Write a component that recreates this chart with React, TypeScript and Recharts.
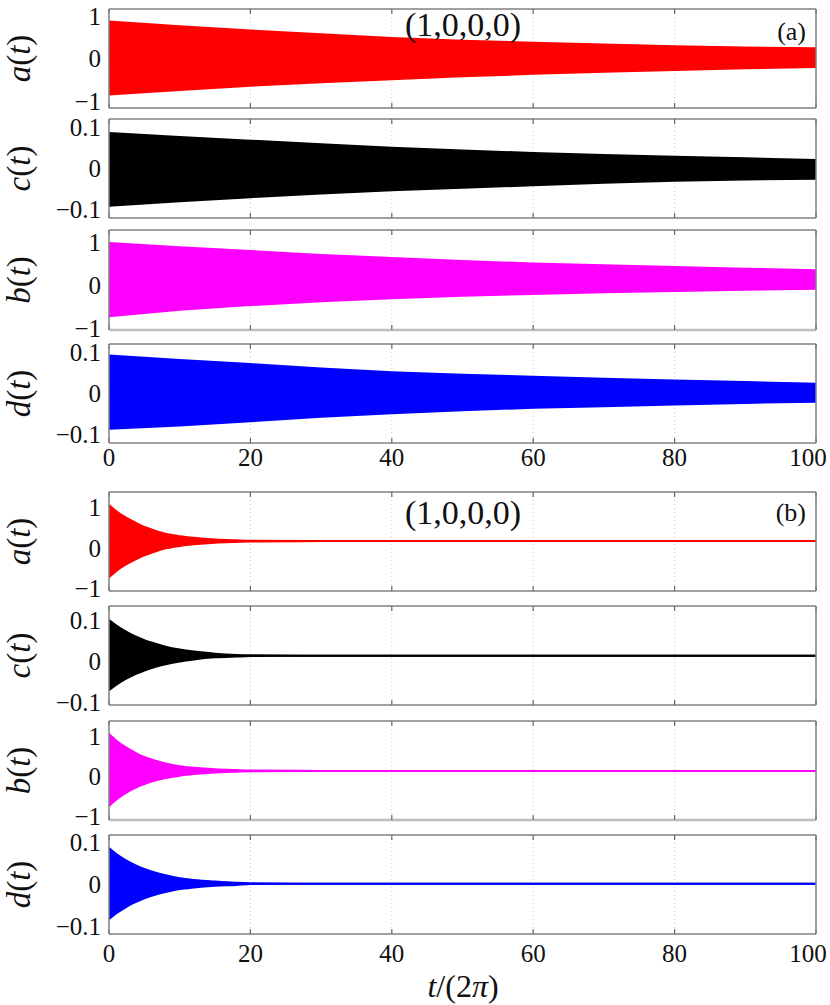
import React from 'react';
import { AreaChart, Area, XAxis, YAxis, CartesianGrid } from 'recharts';

// time samples (t / 2pi)
const tTop = [0, 10, 20, 30, 40, 50, 60, 70, 80, 90, 100];
const tBot = [0, 1, 2, 3, 4, 5, 6, 8, 10, 12, 15, 18, 20, 30, 40, 50, 60, 70, 80, 90, 100];
const xTicks = [0, 20, 40, 60, 80, 100];

// (a) upper / lower envelope of the fast oscillation
const aTopHi = [0.87, 0.76, 0.66, 0.57, 0.48, 0.42, 0.37, 0.33, 0.29, 0.26, 0.24];
const aTopLo = [-0.85, -0.74, -0.64, -0.56, -0.49, -0.42, -0.36, -0.31, -0.27, -0.23, -0.2];
const cTopHi = [0.087, 0.077, 0.068, 0.059, 0.051, 0.044, 0.038, 0.033, 0.029, 0.025, 0.021];
const cTopLo = [-0.091, -0.08, -0.07, -0.061, -0.053, -0.047, -0.041, -0.035, -0.03, -0.027, -0.025];
const bTopHi = [0.98, 0.88, 0.79, 0.7, 0.63, 0.56, 0.5, 0.46, 0.42, 0.38, 0.34];
const bTopLo = [-0.73, -0.58, -0.47, -0.38, -0.31, -0.25, -0.21, -0.17, -0.14, -0.11, -0.09];
const dTopHi = [0.093, 0.082, 0.072, 0.061, 0.052, 0.046, 0.041, 0.036, 0.032, 0.028, 0.024];
const dTopLo = [-0.086, -0.078, -0.068, -0.057, -0.048, -0.041, -0.035, -0.031, -0.027, -0.023, -0.02];

// (b)
const aBotHi = [1.06, 0.91, 0.79, 0.69, 0.6, 0.52, 0.46, 0.35, 0.29, 0.25, 0.21, 0.19, 0.18, 0.17, 0.17, 0.17, 0.17, 0.17, 0.17, 0.17, 0.17];
const aBotLo = [-0.72, -0.57, -0.45, -0.35, -0.26, -0.18, -0.12, -0.01, 0.05, 0.09, 0.13, 0.15, 0.16, 0.17, 0.17, 0.17, 0.17, 0.17, 0.17, 0.17, 0.17];
const cBotHi = [0.1, 0.087, 0.076, 0.066, 0.058, 0.051, 0.045, 0.035, 0.028, 0.023, 0.018, 0.015, 0.014, 0.013, 0.013, 0.013, 0.013, 0.013, 0.013, 0.013, 0.013];
const cBotLo = [-0.071, -0.058, -0.047, -0.038, -0.03, -0.023, -0.017, -0.008, -0.001, 0.004, 0.009, 0.011, 0.012, 0.013, 0.013, 0.013, 0.013, 0.013, 0.013, 0.013, 0.013];
const bBotHi = [1.06, 0.9, 0.77, 0.66, 0.56, 0.48, 0.42, 0.32, 0.25, 0.21, 0.17, 0.15, 0.14, 0.13, 0.13, 0.13, 0.13, 0.13, 0.13, 0.13, 0.13];
const bBotLo = [-0.76, -0.6, -0.47, -0.36, -0.27, -0.2, -0.14, -0.05, 0.01, 0.05, 0.09, 0.11, 0.12, 0.13, 0.13, 0.13, 0.13, 0.13, 0.13, 0.13, 0.13];
const dBotHi = [0.087, 0.073, 0.062, 0.052, 0.044, 0.037, 0.031, 0.022, 0.015, 0.011, 0.007, 0.004, 0.003, 0.002, 0.002, 0.002, 0.002, 0.002, 0.002, 0.002, 0.002];
const dBotLo = [-0.082, -0.069, -0.058, -0.048, -0.04, -0.033, -0.027, -0.018, -0.011, -0.007, -0.003, -0.001, 0.001, 0.002, 0.002, 0.002, 0.002, 0.002, 0.002, 0.002, 0.002];

const bigTicks = [-1, 0, 1];
const smallTicks = [-0.1, 0, 0.1];

const FONT = '"Liberation Serif", "Times New Roman", serif';
const FRAME = '#808080';
const PAD = 20;

const panels = [
  { key: 'a1', name: 'a', top: 9, h: 99, t: tTop, hi: aTopHi, lo: aTopLo, domain: [-1.165, 1.165], yTicks: bigTicks, color: '#ff0000', curve: 'linear' },
  { key: 'c1', name: 'c', top: 119, h: 99, t: tTop, hi: cTopHi, lo: cTopLo, domain: [-0.121, 0.121], yTicks: smallTicks, color: '#000000', curve: 'linear' },
  { key: 'b1', name: 'b', top: 230, h: 100, t: tTop, hi: bTopHi, lo: bTopLo, domain: [-1.05, 1.28], yTicks: bigTicks, color: '#ff00ff', curve: 'linear', light: true },
  { key: 'd1', name: 'd', top: 344, h: 99, t: tTop, hi: dTopHi, lo: dTopLo, domain: [-0.121, 0.121], yTicks: smallTicks, color: '#0000ff', curve: 'linear', xLabels: 10 },
  { key: 'a2', name: 'a', top: 492, h: 99, t: tBot, hi: aBotHi, lo: aBotLo, domain: [-1.06, 1.38], yTicks: bigTicks, color: '#ff0000', curve: 'monotone' },
  { key: 'c2', name: 'c', top: 606, h: 99, t: tBot, hi: cBotHi, lo: cBotLo, domain: [-0.107, 0.134], yTicks: smallTicks, color: '#000000', curve: 'monotone' },
  { key: 'b2', name: 'b', top: 721, h: 99, t: tBot, hi: bBotHi, lo: bBotLo, domain: [-1.11, 1.39], yTicks: bigTicks, color: '#ff00ff', curve: 'monotone', light: true },
  { key: 'd2', name: 'd', top: 835, h: 99, t: tBot, hi: dBotHi, lo: dBotLo, domain: [-0.118, 0.118], yTicks: smallTicks, color: '#0000ff', curve: 'monotone', xLabels: 15 },
];

const fmtY = (v: number) => (v < 0 ? '\u2212' + Math.abs(v) : String(v));

function XTick(props: any) {
  const { x, y, payload } = props;
  const shift = payload.value === 100 ? -8 : 0;
  return (
    <text x={x + shift} y={y} dy="0.71em" textAnchor="middle" fontSize={25} fontFamily={FONT} fill="#111">
      {payload.value}
    </text>
  );
}

const NoTick = () => <g />;

function Panel({ p }: { p: any }) {
  const rows = p.t.map((t: number, i: number) => ({ t, range: [p.lo[i], p.hi[i]] }));
  const bottomH = p.xLabels ? 40 : PAD;
  return (
    <div style={{ position: 'absolute', left: 0, top: p.top - PAD }}>
      <AreaChart width={830} height={p.h + PAD + bottomH} data={rows} margin={{ top: 0, right: 4, bottom: 0, left: 50 }}>
        <CartesianGrid vertical horizontal={false} stroke="#c8c8c8" strokeDasharray="1 3" />
        <Area
          type={p.curve}
          dataKey="range"
          stroke={p.color}
          strokeWidth={2}
          fill={p.color}
          fillOpacity={1}
          dot={false}
          activeDot={false}
          isAnimationActive={false}
        />
        <XAxis
          dataKey="t"
          type="number"
          domain={[0, 100]}
          ticks={xTicks}
          interval={0}
          height={bottomH}
          tickSize={-5}
          tickMargin={p.xLabels || 0}
          tickLine={{ stroke: '#666', strokeWidth: 1.2 }}
          axisLine={{ stroke: p.light ? '#bdbdbd' : FRAME, strokeWidth: p.light ? 2.5 : 1.5 }}
          tick={p.xLabels ? <XTick /> : <NoTick />}
        />
        <XAxis
          xAxisId="top"
          orientation="top"
          dataKey="t"
          type="number"
          domain={[0, 100]}
          ticks={xTicks}
          interval={0}
          height={PAD}
          tickSize={-5}
          tickLine={{ stroke: '#666', strokeWidth: 1.2 }}
          axisLine={{ stroke: FRAME, strokeWidth: 1.5 }}
          tick={<NoTick />}
        />
        <YAxis
          type="number"
          domain={p.domain}
          ticks={p.yTicks}
          interval={0}
          width={59}
          tickLine={false}
          tickSize={0}
          tickMargin={8}
          axisLine={{ stroke: FRAME, strokeWidth: 1.5 }}
          tick={{ fontSize: 25, fontFamily: FONT, fill: '#111' }}
          tickFormatter={fmtY}
        />
        <YAxis
          yAxisId="r"
          orientation="right"
          type="number"
          domain={p.domain}
          width={10}
          tick={false}
          tickLine={false}
          axisLine={{ stroke: FRAME, strokeWidth: 1.5 }}
        />
      </AreaChart>
    </div>
  );
}

export default function App() {
  return (
    <div style={{ position: 'absolute', left: 0, top: 0, width: 830, height: 1005, background: '#fff' }}>
      {panels.map((p) => (
        <Panel key={p.key} p={p} />
      ))}
      <svg width={830} height={1005} style={{ position: 'absolute', left: 0, top: 0, pointerEvents: 'none' }}>
        <g fontFamily={FONT} fill="#111">
          {panels.map((p) => {
            const cy = p.top + p.h / 2;
            return (
              <text key={p.key} x={30} y={cy} fontSize={33} textAnchor="middle" transform={`rotate(-90, 30, ${cy})`}>
                <tspan fontStyle="italic">{p.name}</tspan>(<tspan fontStyle="italic">t</tspan>)
              </text>
            );
          })}
          <text x={463} y={36} fontSize={34} textAnchor="middle">(1,0,0,0)</text>
          <text x={806} y={40} fontSize={26} textAnchor="end">(a)</text>
          <text x={463} y={524} fontSize={34} textAnchor="middle">(1,0,0,0)</text>
          <text x={806} y={521} fontSize={26} textAnchor="end">(b)</text>
          <text x={463} y={997} fontSize={32} textAnchor="middle">
            <tspan fontStyle="italic">t</tspan>/(2<tspan fontStyle="italic">π</tspan>)
          </text>
        </g>
      </svg>
    </div>
  );
}
